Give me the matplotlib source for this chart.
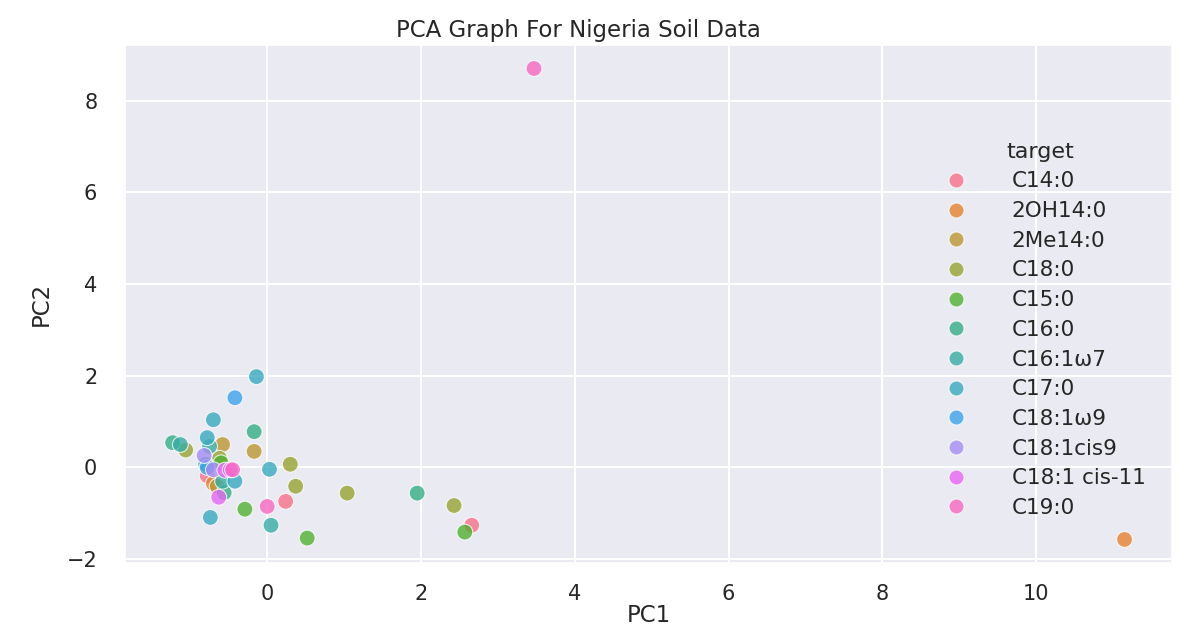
import matplotlib
matplotlib.use("Agg")
import matplotlib.pyplot as plt
import seaborn as sns
import pandas as pd

# Target classes in legend order
targets = ["C14:0", "2OH14:0", "2Me14:0", "C18:0", "C15:0", "C16:0",
           "C16:1ω7", "C17:0", "C18:1ω9", "C18:1cis9", "C18:1 cis-11", "C19:0"]

# PCA scores
pc1 = [2.66, 0.24, -0.78,
       11.15, -0.70,
       -0.17, -0.58, -0.65,
       2.43, 1.04, 0.37, 0.30, -1.06, -0.62,
       2.57, 0.52, -0.29, -0.60,
       1.95, -1.23, -0.17, -0.56,
       -1.13, 0.05, -0.75, -0.80, -0.58,
       -0.14, -0.70, -0.78, 0.03, -0.42, -0.74,
       -0.42, -0.78,
       -0.82, -0.70,
       -0.55, -0.63, -0.48,
       3.47, 0.00, -0.45]
pc2 = [-1.26, -0.74, -0.18,
       -1.57, -0.35,
       0.35, 0.50, -0.41,
       -0.83, -0.56, -0.41, 0.07, 0.38, 0.20,
       -1.41, -1.54, -0.91, 0.10,
       -0.56, 0.54, 0.78, -0.55,
       0.50, -1.26, 0.46, 0.07, -0.30,
       1.98, 1.04, 0.65, -0.04, -0.30, -1.09,
       1.52, 0.00,
       0.26, -0.05,
       -0.06, -0.65, -0.05,
       8.70, -0.85, -0.05]
target = (["C14:0"] * 3 + ["2OH14:0"] * 2 + ["2Me14:0"] * 3 + ["C18:0"] * 6
          + ["C15:0"] * 4 + ["C16:0"] * 4 + ["C16:1ω7"] * 5 + ["C17:0"] * 6
          + ["C18:1ω9"] * 2 + ["C18:1cis9"] * 2 + ["C18:1 cis-11"] * 3 + ["C19:0"] * 3)

df = pd.DataFrame({"PC1": pc1, "PC2": pc2, "target": target})

sns.set_theme(style="darkgrid", rc={"grid.linewidth": 1.5})
plt.rcParams["font.family"] = ["DejaVu Sans"]

fig, ax = plt.subplots(figsize=(11.84, 6.33), dpi=100)
fig.subplots_adjust(left=0.1056, right=0.99, top=0.929, bottom=0.1106)

sns.scatterplot(data=df, x="PC1", y="PC2", hue="target", hue_order=targets,
                palette="husl", s=130, alpha=0.8, linewidth=0.8, ax=ax)

ax.set_title("PCA Graph For Nigeria Soil Data", fontsize=16.5, x=0.433, pad=6)
ax.set_xlabel("PC1", fontsize=16.5, labelpad=0)
ax.set_ylabel("PC2", fontsize=16.5, labelpad=10)
ax.set_xticks([0, 2, 4, 6, 8, 10])
ax.set_yticks([-2, 0, 2, 4, 6, 8])
ax.tick_params(axis="x", labelsize=15, pad=9)
ax.tick_params(axis="y", labelsize=15, pad=14)

leg = ax.legend(title="target", loc="center right", bbox_to_anchor=(0.993, 0.45),
                fontsize=15.5, title_fontsize=16, labelspacing=0.45,
                frameon=False, markerscale=0.95, handletextpad=1.6)

fig.savefig("out.png", dpi=100)
